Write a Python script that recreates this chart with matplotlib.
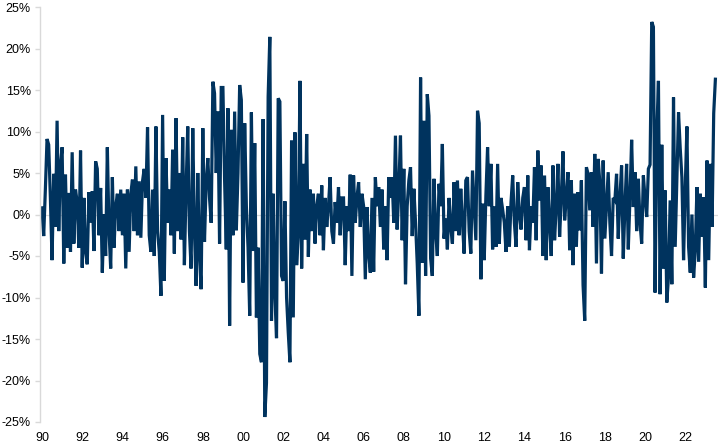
import numpy as np
import matplotlib.pyplot as plt

# Monthly % values, Jan 1990 onwards
values_1990s = [
    0.8, -2.6, 3.0, 9.1, 8.4, 2.0, -5.5, 4.9, -1.5, 11.3, -2.0, 6.0,        # 1990
    8.1, -5.9, 4.8, -4.0, 2.6, -4.5, 7.5, -3.5, 3.0, 1.5, -4.0, 7.7,         # 1991
    -6.4, 2.0, -4.5, -6.0, 2.7, -1.0, 2.8, -4.4, 6.4, 5.5, -2.5, 3.2,        # 1992
    -7.0, 0.0, -5.0, 8.1, -2.0, -6.5, 4.5, -4.0, 1.0, 2.5, -2.0, 3.0,        # 1993
    -2.5, 2.5, -6.5, 3.0, -4.5, 2.5, 4.2, -2.0, 5.8, -2.5, 4.0, -2.8,        # 1994
    4.0, 5.5, 2.0, 10.5, -2.5, -4.5, 3.0, -5.0, 10.6, -2.0, -4.5, -9.8,      # 1995
    12.0, -8.0, 6.8, -1.0, 3.0, -2.5, 7.8, -4.7, 11.6, -2.0, 5.0, -3.0,      # 1996
    9.3, -6.1, 3.0, 10.6, -2.0, -6.5, 10.4, -2.0, -8.6, 5.0, -5.0, -9.0,     # 1997
    10.4, -3.3, 4.0, 6.8, 2.0, -1.0, 16.0, 14.6, 5.0, 12.4, -3.5, 15.3,      # 1998
    15.3, 4.2, -4.2, 12.8, -13.4, 10.2, -2.5, 12.4, -1.9, 5.0, 15.6, 13.8,   # 1999
]
values_2000s = [
    -8.2, 11.0, 1.0, -4.0, -12.2, 12.3, -4.4, 8.6, -12.4, -4.0, -16.8, -17.8,   # 2000
    11.5, -24.4, -20.3, 14.2, 21.4, -12.8, 2.5, -9.6, -14.9, 14.0, 13.6, -7.4,  # 2001
    -8.0, 1.6, -10.0, -14.2, -17.8, 8.9, -12.4, 9.9, -6.1, -2.5, 16.1, -6.5,    # 2002
    6.1, -3.0, 9.7, -5.1, 3.0, -2.0, 2.5, -3.5, 1.0, 2.5, -2.5, 3.5,            # 2003
    -4.3, 2.0, -1.5, 1.0, 4.5, -2.0, -3.5, 1.5, -1.0, 3.3, -2.5, 2.0,           # 2004
    2.0, -6.1, 1.0, -2.0, 4.8, -7.4, 4.7, -1.0, 2.0, 3.9, -1.5, 2.5,            # 2005
    1.0, -7.8, 0.9, -4.8, -7.0, 2.0, -6.9, 4.5, 1.0, 3.3, -1.5, 3.0,            # 2006
    -4.2, 1.0, -5.5, 4.5, 2.0, 4.5, -1.0, 9.5, -1.8, 3.0, 9.5, -3.1,            # 2007
    5.5, -8.4, 1.0, 4.1, 5.7, -2.6, 3.1, -1.0, -5.9, -12.2, 16.5, -5.8,         # 2008
    11.3, -7.4, 14.5, 11.9, -5.3, -7.4, 4.3, -2.0, -5.0, 3.7, 1.0, 8.5,         # 2009
]
values_2010s = [
    -2.9, -0.5, -4.2, 2.0, -1.5, -3.5, 3.9, -2.0, 4.1, -2.5, 3.1, -1.0,   # 2010
    -4.7, 4.1, 4.5, -2.0, -4.7, 5.3, 1.0, -3.1, 12.5, 11.0, -7.8, 1.3,    # 2011
    -5.5, 2.3, 8.1, 1.0, 6.1, -4.2, 1.0, -3.9, 6.1, -3.5, 2.0, 0.6,       # 2012
    -1.0, -4.5, 1.0, -3.9, 1.5, 4.7, -1.0, -3.9, 3.9, 0.0, -1.8, 2.0,     # 2013
    3.3, -3.1, 4.7, -4.3, 1.0, -1.0, 5.7, -3.1, 7.7, 1.7, 5.9, -5.0,      # 2014
    4.7, -5.5, 3.3, -1.0, -5.0, 5.9, -3.1, 1.0, 6.1, -2.7, 2.0, 7.6,      # 2015
    -0.7, 2.0, 5.1, -4.3, 4.1, -6.1, 2.5, -3.9, 2.7, -1.9, 4.1, -8.5,     # 2016
    -12.8, 5.7, 4.9, 0.5, 5.1, -1.5, 7.3, -5.9, 6.7, 3.9, -7.1, 6.5,      # 2017
    -2.9, 1.0, 5.1, -1.0, -5.0, 2.0, 1.7, 4.9, -2.9, 2.0, 5.9, -5.3,      # 2018
    1.0, 6.1, -4.2, 2.0, 9.0, 0.9, 5.1, -2.0, 4.3, -1.0, -3.5, 4.7,       # 2019
]
values_2020s = [
    2.0, -0.3, 5.5, 6.0, 23.2, 22.6, -9.4, 9.7, 16.1, -9.6, 8.4, -6.5,    # 2020
    2.9, -10.6, -7.5, 1.7, -8.4, 14.1, -3.9, 4.1, 12.3, 8.0, 4.5, -5.5,   # 2021
    3.1, 10.6, -3.9, -7.0, 0.0, -7.6, -4.3, 3.3, -5.7, 2.5, -2.7, 2.1,    # 2022
    -8.8, 6.5, -5.5, 6.1, -1.5, 12.2, 16.3,                               # 2023
]

start_year = 1990
tick_years = list(range(1990, 2023, 2))
tick_labels = [f"{y % 100:02d}" for y in tick_years]
y_ticks = list(range(-25, 30, 5))

values = np.array(values_1990s + values_2000s + values_2010s + values_2020s)
dates = start_year + np.arange(len(values)) / 12

navy = '#00335E'
grey = '#D9D9D9'

plt.rcParams['font.family'] = ['Liberation Sans', 'DejaVu Sans']

fig = plt.figure(figsize=(7.2, 4.45), dpi=100)
ax = fig.add_axes([40 / 720, 23 / 445, 678 / 720, 415 / 445])

ax.axhline(0, color=grey, lw=0.9, zorder=1)
ax.plot(dates, values, color=navy, lw=2.3, solid_joinstyle='miter', zorder=2)

ax.set_xlim(1989.9, 2023.63)
ax.set_ylim(-25, 25)

ax.set_xticks(tick_years)
ax.set_xticklabels(tick_labels)
ax.set_yticks(y_ticks)
ax.set_yticklabels([f"{t}%" for t in y_ticks])

for side in ['top', 'right', 'bottom']:
    ax.spines[side].set_visible(False)
ax.spines['left'].set_color(grey)
ax.spines['left'].set_linewidth(1.0)

ax.tick_params(axis='y', direction='out', length=3.6, width=1.0, color=grey,
               labelsize=9, pad=3, labelcolor='#000000')
ax.tick_params(axis='x', length=0, labelsize=9, pad=7, labelcolor='#000000')

fig.savefig('out.png', dpi=100)
